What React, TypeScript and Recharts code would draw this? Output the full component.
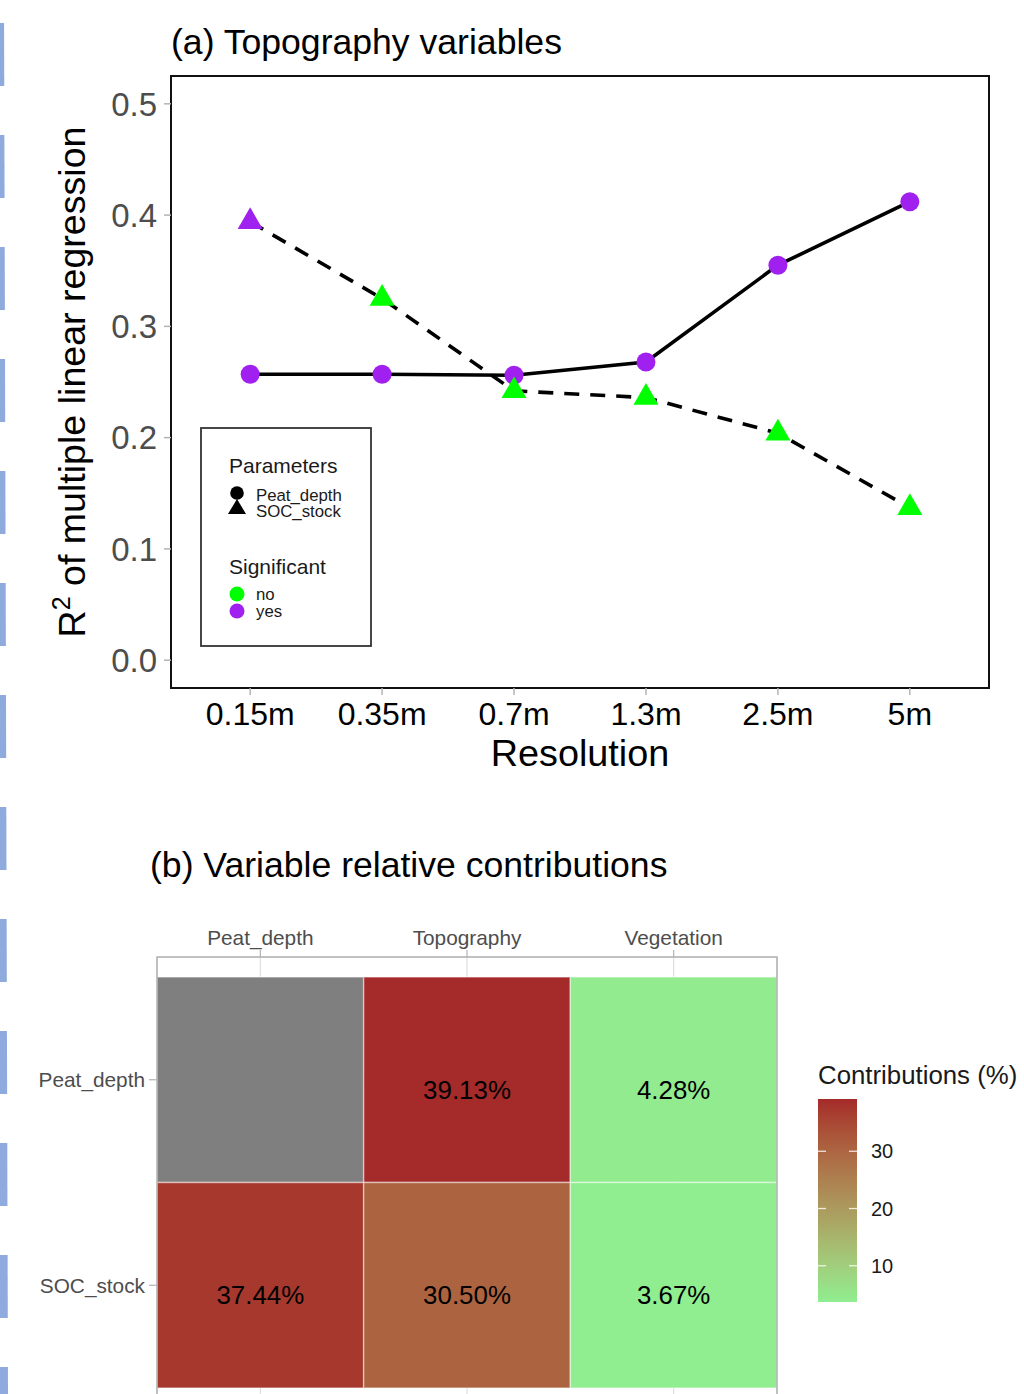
import React from 'react';
import { ComposedChart, Line, XAxis, YAxis, ReferenceArea, CartesianGrid, Label } from 'recharts';

const FONT = '"Liberation Sans", Arial, Helvetica, sans-serif';

// ---------- Panel (a) data ----------
const resolutions = ['0.15m', '0.35m', '0.7m', '1.3m', '2.5m', '5m'];
const peatDepthR2 = [0.257, 0.257, 0.256, 0.268, 0.355, 0.412];
const socStockR2 = [0.394, 0.325, 0.242, 0.236, 0.204, 0.137];
const peatSignificant = ['yes', 'yes', 'yes', 'yes', 'yes', 'yes'];
const socSignificant = ['yes', 'no', 'no', 'no', 'no', 'no'];
const r2Ticks = [0, 0.1, 0.2, 0.3, 0.4, 0.5];
const parameterNames = ['Peat_depth', 'SOC_stock'];
const significanceLevels = ['no', 'yes'];

// ---------- Panel (b) data ----------
const heatCols = ['Peat_depth', 'Topography', 'Vegetation'];
const heatRows = ['Peat_depth', 'SOC_stock'];
const contributions: (number | null)[][] = [
  [null, 39.13, 4.28],
  [37.44, 30.5, 3.67],
];
const contributionTicks = [10, 20, 30];

const SIG_COLORS: Record<string, string> = { no: '#00ff00', yes: '#a020f0' };

const topData = resolutions.map((r, i) => ({
  idx: i,
  label: r,
  peat: peatDepthR2[i],
  soc: socStockR2[i],
  peatSig: peatSignificant[i],
  socSig: socSignificant[i],
}));

// ---------- Lab colour interpolation (like ggplot's gradient) ----------
const LOW = '#90EE90';
const HIGH = '#A52A2A';
const toLin = (c: number) => {
  c /= 255;
  return c <= 0.04045 ? c / 12.92 : Math.pow((c + 0.055) / 1.055, 2.4);
};
const fromLin = (c: number) => {
  const v = c <= 0.0031308 ? 12.92 * c : 1.055 * Math.pow(c, 1 / 2.4) - 0.055;
  return Math.round(Math.max(0, Math.min(1, v)) * 255);
};
const Xn = 0.95047, Yn = 1.0, Zn = 1.08883;
const fLab = (t: number) => (t > 0.008856 ? Math.cbrt(t) : 7.787 * t + 16 / 116);
const fInv = (t: number) => (t * t * t > 0.008856 ? t * t * t : (t - 16 / 116) / 7.787);
function hexToLab(hex: string) {
  const r = toLin(parseInt(hex.slice(1, 3), 16));
  const g = toLin(parseInt(hex.slice(3, 5), 16));
  const b = toLin(parseInt(hex.slice(5, 7), 16));
  const X = (0.4124 * r + 0.3576 * g + 0.1805 * b) / Xn;
  const Y = (0.2126 * r + 0.7152 * g + 0.0722 * b) / Yn;
  const Z = (0.0193 * r + 0.1192 * g + 0.9505 * b) / Zn;
  const fx = fLab(X), fy = fLab(Y), fz = fLab(Z);
  return [116 * fy - 16, 500 * (fx - fy), 200 * (fy - fz)];
}
function labToHex(L: number, a: number, bb: number) {
  const fy = (L + 16) / 116;
  const fx = fy + a / 500;
  const fz = fy - bb / 200;
  const X = Xn * fInv(fx), Y = Yn * fInv(fy), Z = Zn * fInv(fz);
  const r = 3.2406 * X - 1.5372 * Y - 0.4986 * Z;
  const g = -0.9689 * X + 1.8758 * Y + 0.0415 * Z;
  const b = 0.0557 * X - 0.204 * Y + 1.057 * Z;
  const h = (v: number) => fromLin(v).toString(16).padStart(2, '0');
  return '#' + h(r) + h(g) + h(b);
}
const lowLab = hexToLab(LOW);
const highLab = hexToLab(HIGH);
const allVals = contributions.flat().filter((v): v is number => v != null);
const vMin = Math.min(...allVals);
const vMax = Math.max(...allVals);
function colorFor(v: number | null) {
  if (v == null) return '#7F7F7F';
  const t = (v - vMin) / (vMax - vMin);
  return labToHex(
    lowLab[0] + (highLab[0] - lowLab[0]) * t,
    lowLab[1] + (highLab[1] - lowLab[1]) * t,
    lowLab[2] + (highLab[2] - lowLab[2]) * t
  );
}

const cells = heatRows.flatMap((row, ri) =>
  heatCols.map((col, ci) => ({
    row,
    col,
    x: ci + 1,
    y: heatRows.length - ri,
    value: contributions[ri][ci],
  }))
);

// ---------- shapes ----------
const CircleDot = (props: any) => {
  const { cx, cy, payload, index } = props;
  if (cx == null || cy == null) return <g key={`c${index}`} />;
  return <circle key={`c${index}`} cx={cx} cy={cy} r={9.5} fill={SIG_COLORS[payload.peatSig]} />;
};
const TriangleDot = (props: any) => {
  const { cx, cy, payload, index } = props;
  if (cx == null || cy == null) return <g key={`t${index}`} />;
  return (
    <polygon
      key={`t${index}`}
      points={`${cx},${cy - 14.5} ${cx - 12.5},${cy + 7.2} ${cx + 12.5},${cy + 7.2}`}
      fill={SIG_COLORS[payload.socSig]}
    />
  );
};

const YTitle = (props: any) => {
  const vb = props.viewBox || { x: 51, y: 76, width: 120, height: 612 };
  const cx = vb.x + 34;
  const cy = vb.y + vb.height / 2;
  return (
    <text
      transform={`translate(${cx},${cy}) rotate(-90)`}
      textAnchor="middle"
      fontSize={37.6}
      fill="#000"
      fontFamily={FONT}
    >
      R<tspan fontSize={25} dy={-15}>2</tspan>
      <tspan dy={15}> of multiple linear regression</tspan>
    </text>
  );
};

const TileLabel = (text: string) => (props: any) => {
  const vb = props.viewBox;
  if (!vb) return null;
  return (
    <text
      x={vb.x + vb.width / 2}
      y={vb.y + vb.height / 2 + 9.5 + 9.3}
      textAnchor="middle"
      fontSize={25.9}
      fill="#000"
      fontFamily={FONT}
    >
      {text}
    </text>
  );
};

// ---------- Panel (a) ----------
function TopChart() {
  return (
    <ComposedChart
      width={1024}
      height={800}
      data={topData}
      margin={{ top: 76, right: 35, bottom: 32, left: 51 }}
      style={{ fontFamily: FONT }}
    >
      <XAxis
        dataKey="idx"
        type="number"
        domain={[-0.6, 5.6]}
        ticks={[0, 1, 2, 3, 4, 5]}
        tickFormatter={(v: number) => resolutions[v]}
        allowDataOverflow
        axisLine={false}
        tickLine={{ stroke: '#b3b3b3', strokeWidth: 1.5 }}
        tickSize={7}
        tickMargin={7}
        tick={{ fill: '#000', fontSize: 32, fontFamily: FONT }}
        height={80}
        interval={0}
      >
        <Label value="Resolution" position="insideBottom" offset={2} fontSize={37.8} fill="#000" fontFamily={FONT} />
      </XAxis>
      <YAxis
        type="number"
        domain={[-0.025, 0.525]}
        ticks={r2Ticks}
        tickFormatter={(v: number) => v.toFixed(1)}
        allowDataOverflow
        axisLine={false}
        tickLine={{ stroke: '#b3b3b3', strokeWidth: 1.5 }}
        tickSize={7}
        tickMargin={7}
        tick={{ fill: '#4d4d4d', fontSize: 33, fontFamily: FONT }}
        width={120}
        interval={0}
      >
        <Label content={YTitle} />
      </YAxis>
      {/* points first (lines are drawn over them) */}
      <Line dataKey="peat" stroke="none" strokeWidth={0} dot={CircleDot} activeDot={false} isAnimationActive={false} legendType="none" />
      <Line dataKey="soc" stroke="none" strokeWidth={0} dot={TriangleDot} activeDot={false} isAnimationActive={false} legendType="none" />
      <Line dataKey="peat" type="linear" stroke="#000" strokeWidth={3.6} dot={false} activeDot={false} isAnimationActive={false} />
      <Line
        dataKey="soc"
        type="linear"
        stroke="#000"
        strokeWidth={3.6}
        strokeDasharray="15 11"
        dot={false}
        activeDot={false}
        isAnimationActive={false}
      />
      <ReferenceArea x1={-0.6} x2={5.6} y1={-0.025} y2={0.525} fill="none" stroke="#111" strokeWidth={2} ifOverflow="visible" />
    </ComposedChart>
  );
}

// ---------- Panel (b) ----------
function HeatChart() {
  const yPad = 20 / 205.5;
  return (
    <ComposedChart
      width={1024}
      height={540}
      data={cells}
      margin={{ top: 37, right: 247, bottom: 12, left: 7 }}
      style={{ fontFamily: FONT }}
    >
      <CartesianGrid stroke="#dedede" strokeWidth={1.2} />
      <XAxis
        dataKey="x"
        type="number"
        orientation="top"
        domain={[0.5, 3.5]}
        ticks={[1, 2, 3]}
        tickFormatter={(v: number) => heatCols[v - 1]}
        allowDataOverflow
        axisLine={false}
        tickLine={{ stroke: '#b3b3b3', strokeWidth: 1.2 }}
        tickSize={7}
        tickMargin={5}
        tick={{ fill: '#4d4d4d', fontSize: 20.8, fontFamily: FONT }}
        height={40}
        interval={0}
      />
      <YAxis
        type="number"
        domain={[0.5 - yPad, 2.5 + yPad]}
        ticks={[1, 2]}
        tickFormatter={(v: number) => heatRows[heatRows.length - v]}
        allowDataOverflow
        axisLine={false}
        tickLine={{ stroke: '#b3b3b3', strokeWidth: 1.2 }}
        tickSize={8}
        tickMargin={4}
        tick={{ fill: '#4d4d4d', fontSize: 20.8, fontFamily: FONT }}
        width={150}
        interval={0}
      />
      {cells.map((c) => (
        <ReferenceArea
          key={`${c.row}-${c.col}`}
          x1={c.x - 0.5}
          x2={c.x + 0.5}
          y1={c.y - 0.5}
          y2={c.y + 0.5}
          fill={colorFor(c.value)}
          fillOpacity={1}
          stroke="rgba(255,255,255,0.45)"
          strokeWidth={1.5}
          ifOverflow="visible"
          label={c.value == null ? undefined : <Label content={TileLabel(`${c.value.toFixed(2)}%`)} />}
        />
      ))}
      <ReferenceArea
        x1={0.5}
        x2={3.5}
        y1={0.5 - yPad}
        y2={2.5 + yPad}
        fill="none"
        stroke="#b3b3b3"
        strokeWidth={1.5}
        ifOverflow="visible"
      />
    </ComposedChart>
  );
}

// ---------- Overlays: titles, legends, page decoration ----------
function Overlay() {
  const barX = 818, barY = 1099, barW = 39, barH = 203;
  const yOf = (v: number) => barY + barH - ((v - vMin) / (vMax - vMin)) * barH;
  const stops = Array.from({ length: 21 }, (_, i) => vMin + ((vMax - vMin) * i) / 20);
  return (
    <svg
      width={1024}
      height={1394}
      style={{ position: 'absolute', left: 0, top: 0, pointerEvents: 'none' }}
      fontFamily={FONT}
    >
      <defs>
        <mask id="dashMask">
          <line x1={5} y1={0} x2={5} y2={1394} stroke="#fff" strokeWidth={20} strokeDasharray="63 49" strokeDashoffset={89} />
        </mask>
        <linearGradient id="contribGrad" x1="0" y1="1" x2="0" y2="0">
          {stops.map((v, i) => (
            <stop key={i} offset={`${(i / 20) * 100}%`} stopColor={colorFor(v)} />
          ))}
        </linearGradient>
      </defs>
      {/* decorative dashed page edge */}
      <polygon points="0,0 4,0 8,1394 0,1394" fill="#8faadc" mask="url(#dashMask)" />

      {/* titles */}
      <text x={171} y={54} fontSize={35.6} fill="#000">(a) Topography variables</text>
      <text x={150} y={877} fontSize={35.6} fill="#000">(b) Variable relative contributions</text>

      {/* legend of panel (a) */}
      <rect x={201} y={428} width={170} height={218} fill="#fff" stroke="#333" strokeWidth={1.8} />
      <text x={229} y={473} fontSize={21} fill="#1a1a1a">Parameters</text>
      {parameterNames.map((name, i) => (
        <g key={name}>
          {i === 0 ? (
            <circle cx={237} cy={493} r={6.8} fill="#000" />
          ) : (
            <polygon points={`237,${509 - 10} ${228},${509 + 5} ${246},${509 + 5}`} fill="#000" />
          )}
          <text x={256} y={500.5 + i * 16.5} fontSize={16.8} fill="#1a1a1a">{name}</text>
        </g>
      ))}
      <text x={229} y={574} fontSize={21} fill="#1a1a1a">Significant</text>
      {significanceLevels.map((lvl, i) => (
        <g key={lvl}>
          <circle cx={237} cy={594 + i * 17} r={7.5} fill={SIG_COLORS[lvl]} />
          <text x={256} y={600 + i * 16.5} fontSize={16.8} fill="#1a1a1a">{lvl}</text>
        </g>
      ))}

      {/* colour bar legend of panel (b) */}
      <text x={818} y={1084} fontSize={25.8} fill="#1a1a1a">Contributions (%)</text>
      <rect x={barX} y={barY} width={barW} height={barH} fill="url(#contribGrad)" />
      {contributionTicks.map((t) => (
        <g key={t}>
          <line x1={barX} x2={barX + 8} y1={yOf(t)} y2={yOf(t)} stroke="#fff" strokeOpacity={0.8} strokeWidth={1.3} />
          <line x1={barX + barW - 8} x2={barX + barW} y1={yOf(t)} y2={yOf(t)} stroke="#fff" strokeOpacity={0.8} strokeWidth={1.3} />
          <text x={871} y={yOf(t) + 7} fontSize={20} fill="#1a1a1a">{t}</text>
        </g>
      ))}
    </svg>
  );
}

export default function App() {
  return (
    <div
      style={{
        position: 'absolute',
        left: 0,
        top: 0,
        width: 1024,
        height: 1394,
        overflow: 'hidden',
        background: '#fff',
        fontFamily: FONT,
      }}
    >
      <div style={{ position: 'absolute', left: 0, top: 0 }}>
        <TopChart />
      </div>
      <div style={{ position: 'absolute', left: 0, top: 880 }}>
        <HeatChart />
      </div>
      <Overlay />
    </div>
  );
}
